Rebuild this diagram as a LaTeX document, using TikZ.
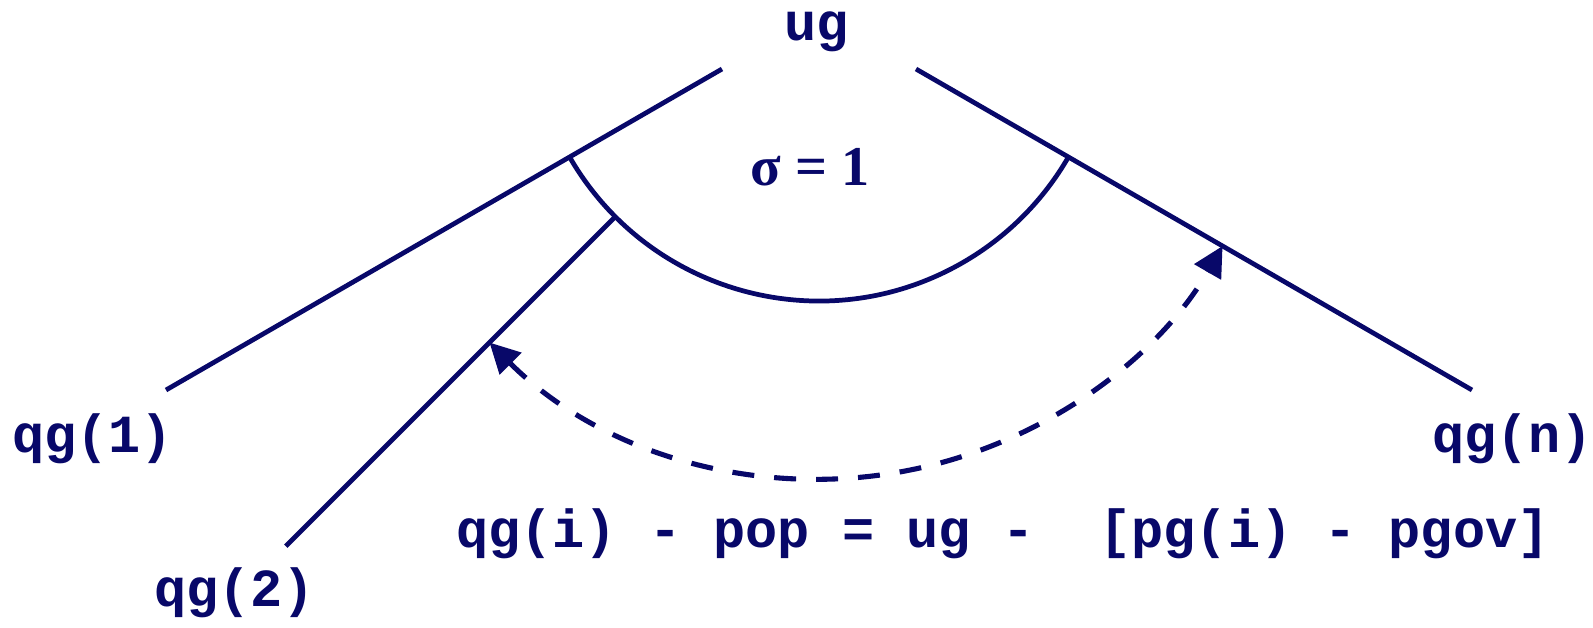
\documentclass[tikz,border=0pt]{standalone}
\usepackage{fontspec}
\newfontfamily\codefont{Liberation Mono}
\newfontfamily\greekfont{Liberation Serif}
\usetikzlibrary{calc, arrows.meta}
\definecolor{navy}{RGB}{8,8,105}

\begin{document}
\begin{tikzpicture}[
		x=0.02cm, y=0.02cm,
		tag/.style={inner sep=0pt, anchor=base west, text=navy, font=\codefont\bfseries\fontsize{30.5}{36}\selectfont},
		sigmatag/.style={inner sep=0pt, anchor=base, text=navy, font=\greekfont\bfseries\fontsize{32}{38}\selectfont},
		leg/.style={draw=navy, line width=2.7pt},
		sweep/.style={draw=navy, line width=2.9pt, dash pattern=on 0.44cm off 0.40cm, {Triangle[length=0.6cm, width=0.6cm]}-{Triangle[length=0.6cm, width=0.6cm]}}
		]
		\useasboundingbox (0,0) rectangle (1593,-627);
		
		% --- APEX (ug) ---
		\coordinate (apex) at (819,-13);
		\node[tag] (ug) at (784,-40) {ug};
		
		% --- LEGS ---
		\coordinate (leg1top) at ($(apex)+(210:112)$);
		\coordinate (leg1end) at ($(apex)+(210:754)$);
		\coordinate (legntop) at ($(apex)+(330:112)$);
		\coordinate (legnend) at ($(apex)+(330:754)$);
		\coordinate (leg2top) at ($(apex)+(225:289)$);
		\coordinate (leg2end) at ($(apex)+(225:754)$);
		\draw[leg] (leg1top) -- (leg1end);
		\draw[leg] (legntop) -- (legnend);
		\draw[leg] (leg2top) -- (leg2end);
		
		\node[tag] (qg1) at (12,-452) {qg(1)};
		\node[tag] (qg2) at (154,-606) {qg(2)};
		\node[tag] (qgn) at (1432,-452) {qg(n)};
		
		% --- ANGLE sigma = 1 ---
		\coordinate (arcstart) at ($(apex)+(210:288)$);
		\draw[leg] (arcstart) arc[start angle=210, end angle=330, radius=288];
		\node[sigmatag] (sig) at (810,-185) {σ = 1};
		
		% --- SWEEP qg(i) -> qg(n) ---
		\coordinate (sweepstart) at ($(apex)+(225:466)$);
		\draw[sweep] (sweepstart) arc[start angle=225, end angle=330, radius=466];
		\node[tag] (rule) at (456,-547) {qg(i) - pop = ug - \ [pg(i) - pgov]};
		
	\end{tikzpicture}
\end{document}
